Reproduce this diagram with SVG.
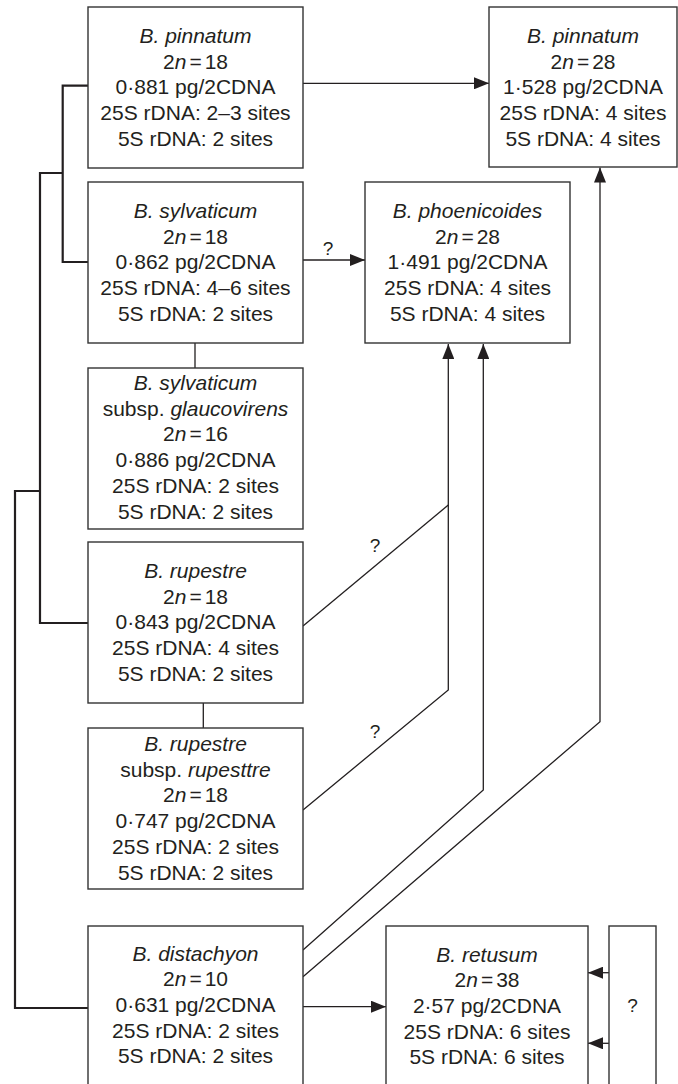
<svg xmlns="http://www.w3.org/2000/svg" width="678" height="1084" viewBox="0 0 678 1084">
<style>
.box{fill:#fff;stroke:#333;stroke-width:1.4}
text{font-family:"Liberation Sans",Arial,sans-serif;font-size:21px;fill:#231f20;text-anchor:middle}
.i{font-style:italic}
.tree{fill:none;stroke:#231f20;stroke-width:2.2}
.con{fill:none;stroke:#231f20;stroke-width:1.3}
.q{font-size:19px}
</style>
<defs>
<marker id="ah" viewBox="0 0 15 12" refX="15" refY="6" markerWidth="15" markerHeight="12" orient="auto" markerUnits="userSpaceOnUse">
<path d="M0,0 L15,6 L0,12 Z" fill="#231f20"/>
</marker>
</defs>
<g id="connectors">
<path class="tree" d="M88,85.7 H62.7 V262 H88"/>
<path class="tree" d="M62.7,173 H40 V623 H88"/>
<path class="tree" d="M40,491 H15 V1008 H88"/>
<path class="con" d="M303,83.3 H489" marker-end="url(#ah)"/>
<path class="con" d="M303,260 H365" marker-end="url(#ah)"/>
<path class="con" d="M195,343 V368"/>
<path class="con" d="M203.3,703 V728"/>
<path class="con" d="M303,626 L448.3,505"/>
<path class="con" d="M303,810 L448.3,690 V344" marker-end="url(#ah)"/>
<path class="con" d="M303,950 L483.3,790 V344" marker-end="url(#ah)"/>
<path class="con" d="M303,976.7 L600,721.7 V167.5" marker-end="url(#ah)"/>
<path class="con" d="M303,1006.7 H386" marker-end="url(#ah)"/>
<path class="con" d="M609,972.7 H588" marker-end="url(#ah)"/>
<path class="con" d="M609,1043.3 H588" marker-end="url(#ah)"/>
<text class="q" x="328" y="255">?</text>
<text class="q" x="375" y="552">?</text>
<text class="q" x="375" y="738">?</text>
</g>
<g id="n-pinnatum18">
<rect class="box" x="88" y="7" width="215" height="161"/>
<text x="195.5" y="43" class="i">B. pinnatum</text>
<text x="195.5" y="68.7">2<tspan class="i">n</tspan><tspan dx="3">=</tspan><tspan dx="3">18</tspan></text>
<text x="195.5" y="94.4">0·881 pg/2CDNA</text>
<text x="195.5" y="120.1">25S rDNA: 2–3 sites</text>
<text x="195.5" y="145.8">5S rDNA: 2 sites</text>
</g>
<g id="n-sylvaticum">
<rect class="box" x="88" y="182" width="215" height="161"/>
<text x="195.5" y="218" class="i">B. sylvaticum</text>
<text x="195.5" y="243.7">2<tspan class="i">n</tspan><tspan dx="3">=</tspan><tspan dx="3">18</tspan></text>
<text x="195.5" y="269.4">0·862 pg/2CDNA</text>
<text x="195.5" y="295.1">25S rDNA: 4–6 sites</text>
<text x="195.5" y="320.8">5S rDNA: 2 sites</text>
</g>
<g id="n-glaucovirens">
<rect class="box" x="88" y="368" width="215" height="161"/>
<text x="195.5" y="390" class="i">B. sylvaticum</text>
<text x="195.5" y="415.7">subsp. <tspan class="i">glaucovirens</tspan></text>
<text x="195.5" y="441.4">2<tspan class="i">n</tspan><tspan dx="3">=</tspan><tspan dx="3">16</tspan></text>
<text x="195.5" y="467.1">0·886 pg/2CDNA</text>
<text x="195.5" y="492.8">25S rDNA: 2 sites</text>
<text x="195.5" y="518.5">5S rDNA: 2 sites</text>
</g>
<g id="n-rupestre">
<rect class="box" x="88" y="542" width="215" height="161"/>
<text x="195.5" y="578" class="i">B. rupestre</text>
<text x="195.5" y="603.7">2<tspan class="i">n</tspan><tspan dx="3">=</tspan><tspan dx="3">18</tspan></text>
<text x="195.5" y="629.4">0·843 pg/2CDNA</text>
<text x="195.5" y="655.1">25S rDNA: 4 sites</text>
<text x="195.5" y="680.8">5S rDNA: 2 sites</text>
</g>
<g id="n-rupestre-sub">
<rect class="box" x="88" y="728" width="215" height="161"/>
<text x="195.5" y="751" class="i">B. rupestre</text>
<text x="195.5" y="776.7">subsp. <tspan class="i">rupesttre</tspan></text>
<text x="195.5" y="802.4">2<tspan class="i">n</tspan><tspan dx="3">=</tspan><tspan dx="3">18</tspan></text>
<text x="195.5" y="828.1">0·747 pg/2CDNA</text>
<text x="195.5" y="853.8">25S rDNA: 2 sites</text>
<text x="195.5" y="879.5">5S rDNA: 2 sites</text>
</g>
<g id="n-distachyon">
<rect class="box" x="88" y="926" width="215" height="170"/>
<text x="195.5" y="960.5" class="i">B. distachyon</text>
<text x="195.5" y="986.2">2<tspan class="i">n</tspan><tspan dx="3">=</tspan><tspan dx="3">10</tspan></text>
<text x="195.5" y="1011.9">0·631 pg/2CDNA</text>
<text x="195.5" y="1037.6">25S rDNA: 2 sites</text>
<text x="195.5" y="1063.3">5S rDNA: 2 sites</text>
</g>
<g id="n-pinnatum28">
<rect class="box" x="489" y="7" width="188" height="160"/>
<text x="583" y="43" class="i">B. pinnatum</text>
<text x="583" y="68.7">2<tspan class="i">n</tspan><tspan dx="3">=</tspan><tspan dx="3">28</tspan></text>
<text x="583" y="94.4">1·528 pg/2CDNA</text>
<text x="583" y="120.1">25S rDNA: 4 sites</text>
<text x="583" y="145.8">5S rDNA: 4 sites</text>
</g>
<g id="n-phoenicoides">
<rect class="box" x="365" y="182" width="205" height="161"/>
<text x="467.5" y="218" class="i">B. phoenicoides</text>
<text x="467.5" y="243.7">2<tspan class="i">n</tspan><tspan dx="3">=</tspan><tspan dx="3">28</tspan></text>
<text x="467.5" y="269.4">1·491 pg/2CDNA</text>
<text x="467.5" y="295.1">25S rDNA: 4 sites</text>
<text x="467.5" y="320.8">5S rDNA: 4 sites</text>
</g>
<g id="n-retusum">
<rect class="box" x="386" y="926" width="202" height="170"/>
<text x="487" y="961.7" class="i">B. retusum</text>
<text x="487" y="987.3">2<tspan class="i">n</tspan><tspan dx="3">=</tspan><tspan dx="3">38</tspan></text>
<text x="487" y="1013">2·57 pg/2CDNA</text>
<text x="487" y="1038.6">25S rDNA: 6 sites</text>
<text x="487" y="1064.3">5S rDNA: 6 sites</text>
</g>
<g id="n-unknown">
<rect class="box" x="609" y="926" width="47" height="170"/>
<text class="q" x="632.5" y="1012">?</text>
</g>
</svg>
